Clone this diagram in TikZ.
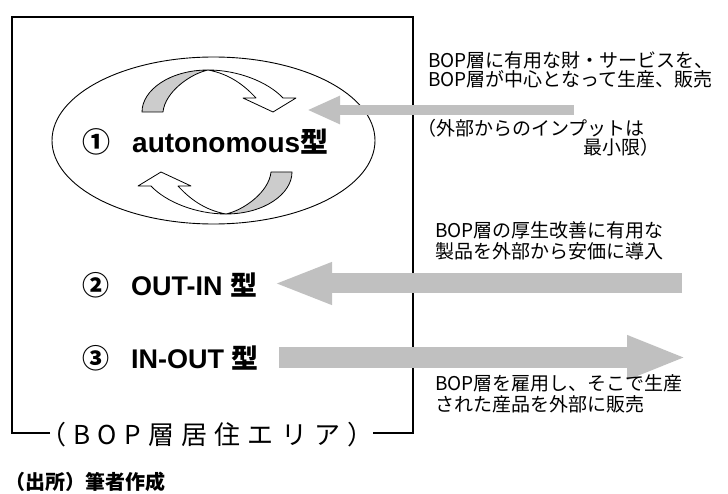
\documentclass[tikz,border=0pt]{standalone}
\usepackage{fontspec}
\setmainfont{Liberation Sans}
\newfontfamily\jp{Noto Sans CJK JP}
\newfontfamily\jpspaced[LetterSpace=28]{Noto Sans CJK JP}
\usetikzlibrary{arrows.meta,shapes.geometric}
\definecolor{arrowgray}{RGB}{192,192,192}
\definecolor{curvegray}{RGB}{204,204,204}
\begin{document}
\begin{tikzpicture}[x=1pt,y=-1pt,
  typelabel/.style={anchor=west,inner sep=0pt},
  desc/.style={anchor=west,inner sep=0pt,align=left},
  curvepart/.style={draw=black,line width=0.8pt,line join=round},
  blockarrow/.style={draw=arrowgray}]
\clip (0,0) rectangle (728,494);

% ellipse
\node[draw,ellipse,line width=0.9pt,minimum width=323pt,minimum height=167pt,inner sep=0pt] (autoell) at (213.5,140.5) {};

% curved arrows
\begin{scope}
  \filldraw[curvepart,fill=curvegray] (142,112) .. controls (142,90) and (170,70) .. (208,70) .. controls (190,74) and (165,92) .. (163,112) -- cycle;
  \filldraw[curvepart,fill=white] (208,70) .. controls (238,70) and (268,82) .. (283,98) -- (296,98) -- (273,112) -- (243,98) -- (256,98) .. controls (245,86) and (230,74) .. (208,70) -- cycle;
\end{scope}
\begin{scope}[rotate around={180:(217,142)}]
  \filldraw[curvepart,fill=curvegray] (142,112) .. controls (142,90) and (170,70) .. (208,70) .. controls (190,74) and (165,92) .. (163,112) -- cycle;
  \filldraw[curvepart,fill=white] (208,70) .. controls (238,70) and (268,82) .. (283,98) -- (296,98) -- (273,112) -- (243,98) -- (256,98) .. controls (245,86) and (230,74) .. (208,70) -- cycle;
\end{scope}

% area box
\coordinate (gapL) at (50,433);
\coordinate (bl) at (12,433);
\coordinate (tl) at (12,17);
\coordinate (tr) at (413,17);
\coordinate (br) at (413,433);
\coordinate (gapR) at (373,433);
\draw[line width=2.2pt] (gapL) -- (bl) -- (tl) -- (tr) -- (br) -- (gapR);
\node[inner sep=0pt,font=\jpspaced\fontsize{26}{30}\selectfont] (area) at (207,435) {（BOP層居住エリア）};

% straight block arrows
\coordinate (a1tail) at (574,110);
\coordinate (a1tip) at (307,110);
\coordinate (a2tail) at (682,283.5);
\coordinate (a2tip) at (273,283.5);
\coordinate (a3tail) at (279,357.5);
\coordinate (a3tip) at (687,357.5);
\draw[blockarrow,line width=10pt,-{Triangle[length=33pt,width=26pt]}] (a1tail) -- (a1tip);
\draw[blockarrow,line width=20pt,-{Triangle[length=59pt,width=38pt]}] (a2tail) -- (a2tip);
\draw[blockarrow,line width=21pt,-{Triangle[length=60pt,width=40pt]}] (a3tail) -- (a3tip);

% type labels
\node[typelabel,font=\fontsize{28}{32}\selectfont] (t1) at (82,142) {{\jp\bfseries ①}\hspace{22pt}{\bfseries autonomous\jp 型}};
\node[typelabel,font=\fontsize{27}{32}\selectfont] (t2) at (82,285) {{\jp\bfseries ②}\hspace{22pt}{\bfseries OUT-IN {\jp 型}}};
\node[typelabel,font=\fontsize{27}{32}\selectfont] (t3) at (82,358) {{\jp\bfseries ③}\hspace{22pt}{\bfseries IN-OUT {\jp 型}}};

% descriptions
\node[desc,font=\jp\fontsize{19}{18.5}\selectfont] (d1) at (428,70) {BOP層に有用な財・サービスを、\\BOP層が中心となって生産、販売};
\node[desc,font=\jp\fontsize{19}{17}\selectfont] (d1b) at (417,137.5) {（外部からのインプットは\\\hspace*{166pt}最小限）};
\node[desc,font=\jp\fontsize{19}{21}\selectfont] (d2) at (435,240.5) {BOP層の厚生改善に有用な\\製品を外部から安価に導入};
\node[desc,font=\jp\fontsize{19}{21}\selectfont] (d3) at (435,393.5) {BOP層を雇用し、そこで生産\\された産品を外部に販売};

% source
\node[anchor=west,inner sep=0pt,font=\jp\bfseries\fontsize{20}{24}\selectfont] (src) at (5,482) {（出所）筆者作成};
\end{tikzpicture}
\end{document}
